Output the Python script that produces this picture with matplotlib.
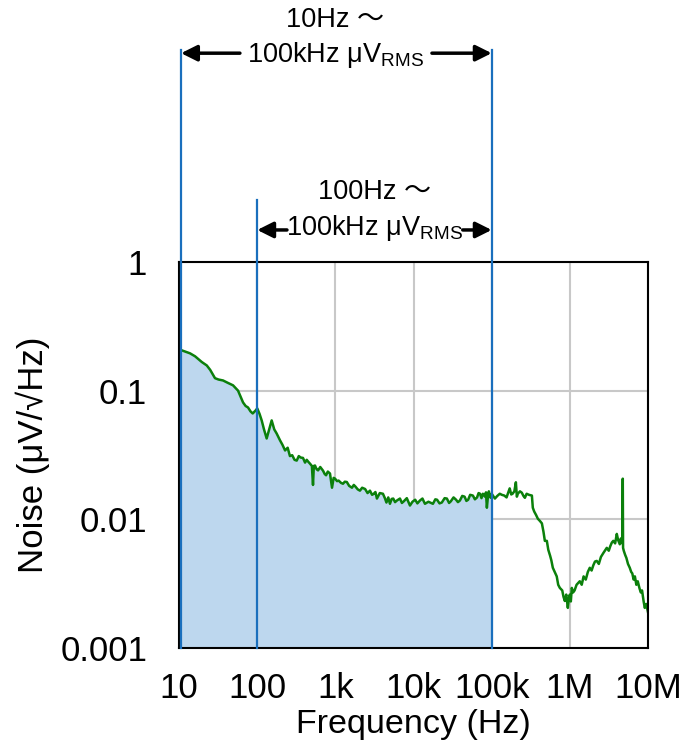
import numpy as np
import matplotlib.pyplot as plt
import matplotlib.transforms as mtransforms

plt.rcParams['font.family'] = ['Liberation Sans', 'Noto Sans CJK JP', 'DejaVu Sans']
plt.rcParams['mathtext.fontset'] = 'custom'
plt.rcParams['mathtext.rm'] = 'Liberation Sans'

# noise spectrum (Hz, uV/rtHz)
freq = [10, 11, 13.8, 16, 19.5, 22.6, 25, 28.8, 32, 36.5, 42, 49, 56.8, 62, 65.8, 71, 76.2, 82, 87.5, 95,
        100, 107, 114, 122, 132, 145, 153, 165, 177, 196, 210, 227, 245, 262, 280,
        300, 320, 340, 360, 385, 409, 430, 450, 475, 500, 517, 530, 548, 575, 600, 640, 694, 730, 760,
        800, 853, 905, 950, 990, 1050, 1100, 1180, 1250, 1320, 1400, 1500, 1630, 1720, 1800, 1930, 2060,
        2200, 2400, 2580, 2770, 2950, 3100, 3250, 3400, 3700, 4060, 4300, 4500, 4750, 4990, 5250, 5500,
        5800, 6130, 6700, 7100, 7500, 8200, 9000, 9700, 10500, 11200, 12080, 13000, 14000, 15500, 17700,
        19000, 20000, 21500, 23000, 25000, 26700, 28500, 30000, 32500, 35000, 37000, 39200, 42000, 45000,
        47500, 50000, 53000, 57500, 61000, 65000, 68000, 71000, 74000, 77100, 82000, 84500, 86800, 90000,
        92000, 94900, 97000, 100000,
        110000, 118000, 127000, 135000, 145000, 155000, 170000, 178000, 185000, 195000, 204000, 210000,
        216000, 230000, 243000, 255000, 266000, 280000, 300000, 327000, 336000, 350000, 370000, 390000,
        415000, 439000, 460000, 479000, 508000, 530000, 560000, 580000, 606000, 640000, 680000, 710000,
        745000, 800000, 830000, 863000, 900000, 943000,
        970000, 1.0e6, 1.03e6, 1.06e6, 1.1e6, 1.15e6, 1.22e6, 1.34e6, 1.42e6, 1.5e6, 1.6e6, 1.7e6, 1.8e6,
        1.9e6, 2.0e6, 2.1e6, 2.21e6, 2.35e6, 2.5e6, 2.7e6, 2.97e6, 3.15e6, 3.3e6, 3.45e6, 3.6e6, 3.8e6,
        3.99e6, 4.15e6, 4.36e6, 4.5e6, 4.6e6, 4.7e6, 4.76e6, 4.8e6, 4.9e6, 5.1e6, 5.3e6, 5.55e6, 5.85e6,
        6.1e6, 6.3e6, 6.55e6, 6.8e6, 7.1e6, 7.4e6, 7.8e6, 8.1e6, 8.4e6, 8.8e6, 9.1e6, 9.5e6, 1.0e7]
noise = [0.21, 0.205, 0.195, 0.185, 0.167, 0.157, 0.145, 0.125, 0.122, 0.12, 0.115, 0.11, 0.1, 0.088,
         0.081, 0.076, 0.074, 0.069, 0.0665, 0.07,
         0.0728, 0.066, 0.0587, 0.05, 0.0425, 0.052, 0.0587, 0.05, 0.0465, 0.041, 0.038, 0.0343, 0.036,
         0.031, 0.0315,
         0.029, 0.0286, 0.031, 0.0302, 0.030, 0.0276, 0.029, 0.028, 0.027, 0.026, 0.0185, 0.026, 0.0262,
         0.0245, 0.024, 0.0255, 0.0239, 0.0225, 0.022,
         0.0235, 0.0227, 0.0176, 0.021, 0.0207, 0.0198, 0.020, 0.0192, 0.0189, 0.0196, 0.0195, 0.0182,
         0.0176, 0.0185, 0.018, 0.0171, 0.0167,
         0.0176, 0.0172, 0.016, 0.0167, 0.0155, 0.0158, 0.0163, 0.0145, 0.016, 0.0158, 0.0146, 0.0135,
         0.0148, 0.0132, 0.0144, 0.0145,
         0.0136, 0.014, 0.0145, 0.0134, 0.0138, 0.0146, 0.0128, 0.0137, 0.0142, 0.0133, 0.014, 0.0145,
         0.0132, 0.0137, 0.0132,
         0.0143, 0.0142, 0.0133, 0.0135, 0.0146, 0.0145, 0.0134, 0.0138, 0.0148, 0.0142, 0.0136, 0.014,
         0.0152, 0.015,
         0.0139, 0.0142, 0.0155, 0.0153, 0.0143, 0.0148, 0.016, 0.0158, 0.0146, 0.0158, 0.015, 0.0162,
         0.0123, 0.0155,
         0.0165, 0.0153, 0.0147, 0.0158,
         0.0145, 0.0152, 0.0158, 0.0155, 0.0153, 0.0148, 0.0174, 0.0156, 0.0158, 0.0165, 0.0194, 0.015,
         0.0158, 0.0165, 0.0161, 0.0152, 0.0147, 0.0158, 0.0155, 0.0153, 0.0123, 0.0115, 0.0108, 0.0101,
         0.0097, 0.0093, 0.008, 0.0068, 0.0068, 0.0058, 0.0052, 0.0048, 0.0042, 0.0039, 0.0036, 0.0031,
         0.00293, 0.0028, 0.0025, 0.00232, 0.0026, 0.00205,
         0.0024, 0.0026, 0.0023, 0.00293, 0.0027, 0.0028, 0.0031, 0.0033, 0.0031, 0.0036, 0.0034, 0.0039,
         0.0042,
         0.004, 0.0044, 0.0047, 0.00475, 0.0045, 0.0051, 0.0055, 0.006, 0.0057, 0.0062, 0.0066, 0.0068,
         0.0065,
         0.0077, 0.0069, 0.0064, 0.0071, 0.0066, 0.0065, 0.0207, 0.006, 0.0057, 0.0053, 0.005, 0.0045,
         0.0042,
         0.0039, 0.0038, 0.0034, 0.0036, 0.0031, 0.0033, 0.0029, 0.0027, 0.0028, 0.0023, 0.00205, 0.0022,
         0.0019]

xticks = [10, 100, 1e3, 1e4, 1e5, 1e6, 1e7]
xticklabels = ['10', '100', '1k', '10k', '100k', '1M', '10M']
yticks = [0.001, 0.01, 0.1, 1]
yticklabels = ['0.001', '0.01', '0.1', '1']

freq = np.array(freq)
noise = np.array(noise)

fig = plt.figure(figsize=(6.81, 7.46), dpi=100)
ax = fig.add_axes([0.263, 0.1314, 0.6885, 0.5174])

blue = '#1a6fbd'
band = freq <= 1e5
ax.fill_between(freq[band], noise[band], 1e-3, color='#bdd7ee', lw=0, zorder=1)
ax.plot(freq, noise, color='#0b800b', lw=1.8, zorder=3)

ax.set_xscale('log')
ax.set_yscale('log')
ax.set_xlim(10, 1e7)
ax.set_ylim(1e-3, 1)
ax.set_xticks(xticks)
ax.set_xticklabels(xticklabels)
ax.set_yticks(yticks)
ax.set_yticklabels(yticklabels)
ax.minorticks_off()
ax.tick_params(length=0, labelsize=25)
ax.tick_params(axis='x', pad=17)
ax.tick_params(axis='y', pad=23)
ax.grid(True, color='#c8c8c8', lw=1.5, zorder=0)
ax.set_axisbelow(True)
for s in ax.spines.values():
    s.set_linewidth(1.5)
    s.set_zorder(4)

ax.set_xlabel('Frequency (Hz)', fontsize=24.5, labelpad=3)
ax.set_ylabel('Noise (μV/√Hz)', fontsize=25, labelpad=7)

# marker lines and arrows above the plot
trans = mtransforms.blended_transform_factory(ax.transData, ax.transAxes)
for xv, ytop in [(10.6, 1.55), (100, 1.161), (1e5, 1.55)]:
    ax.plot([xv, xv], [0, ytop], color=blue, lw=1.6, transform=trans, clip_on=False, zorder=5)

arr = dict(arrowstyle='-|>', color='black', lw=2.5, mutation_scale=24, shrinkA=0, shrinkB=0)
ax.annotate('', xy=(10.6, 1.541), xytext=(60, 1.541), xycoords=trans, textcoords=trans, arrowprops=arr)
ax.annotate('', xy=(1e5, 1.541), xytext=(17200, 1.541), xycoords=trans, textcoords=trans, arrowprops=arr)
ax.text(990, 1.627, '10Hz ～', transform=trans, ha='center', va='center', fontsize=19.5)
ax.text(990, 1.536, '100kHz μV$_\\mathrm{RMS}$', transform=trans, ha='center', va='center', fontsize=19.5)

ax.annotate('', xy=(100, 1.083), xytext=(240, 1.083), xycoords=trans, textcoords=trans, arrowprops=arr)
ax.annotate('', xy=(1e5, 1.083), xytext=(42600, 1.083), xycoords=trans, textcoords=trans, arrowprops=arr)
ax.text(3200, 1.181, '100Hz ～', transform=trans, ha='center', va='center', fontsize=19.5)
ax.text(3200, 1.088, '100kHz μV$_\\mathrm{RMS}$', transform=trans, ha='center', va='center', fontsize=19.5)

fig.savefig('out.png', dpi=100)
